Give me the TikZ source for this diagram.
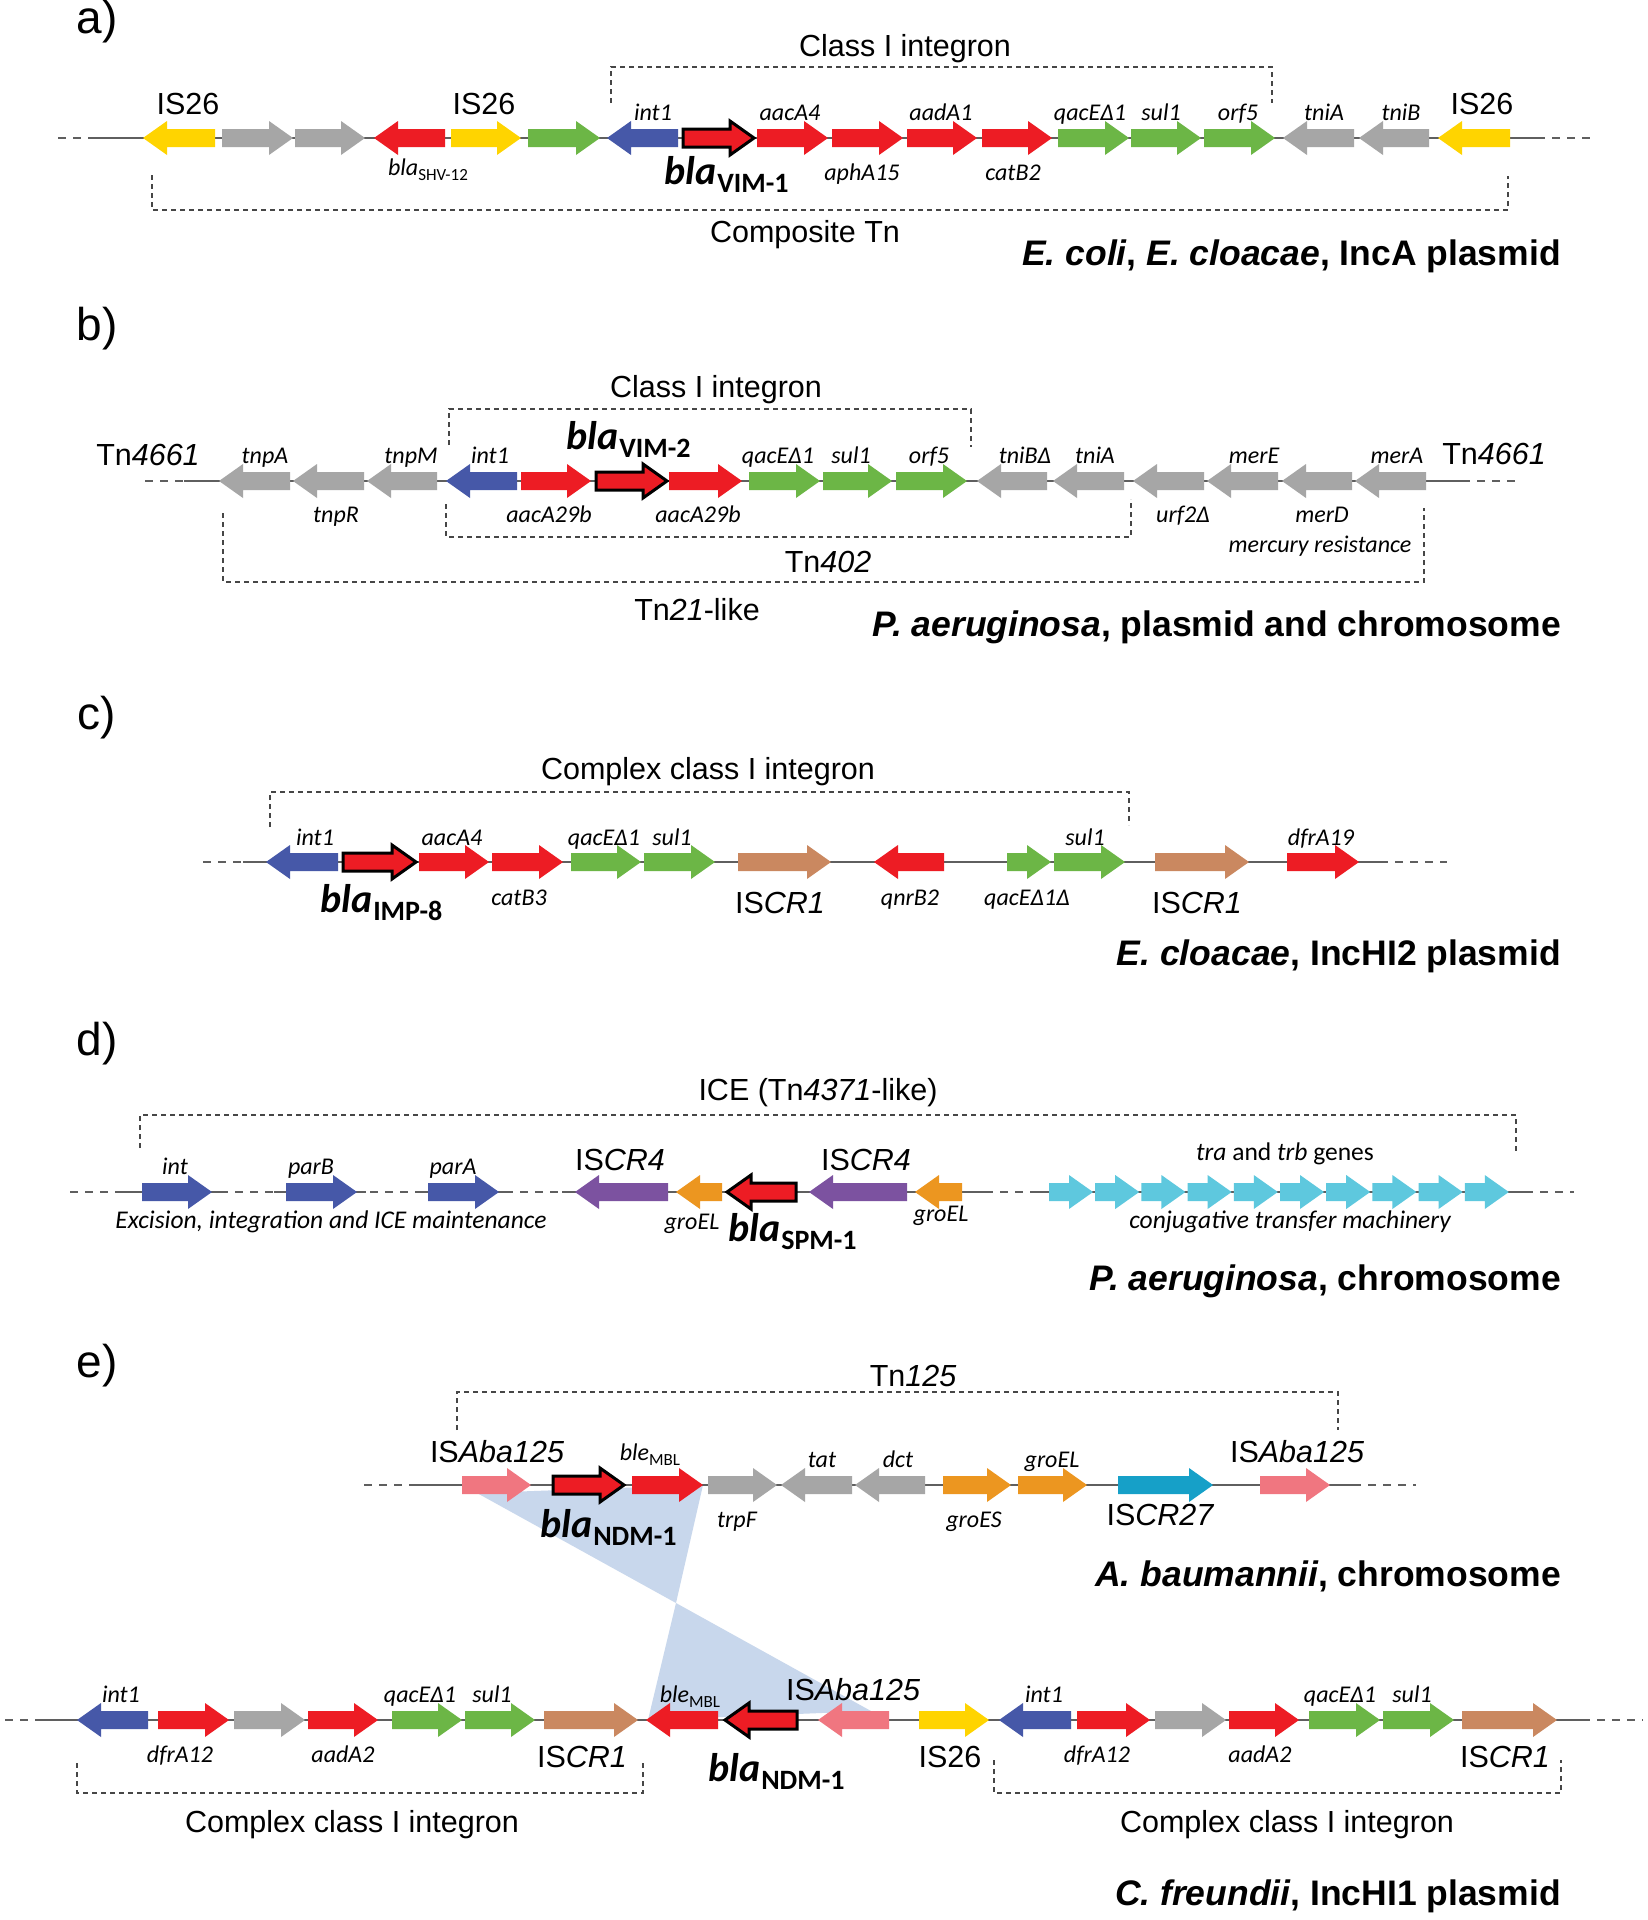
\documentclass[tikz,border=0pt]{standalone}
\usepackage{fontspec}
\setmainfont{Liberation Sans}
\newfontfamily\calfont{Carlito}
\definecolor{cyel}{RGB}{255,212,0}
\definecolor{cgry}{RGB}{166,166,166}
\definecolor{cred}{RGB}{237,28,36}
\definecolor{cgrn}{RGB}{108,182,70}
\definecolor{cblu}{RGB}{70,88,168}
\definecolor{cbrn}{RGB}{202,136,96}
\definecolor{cpur}{RGB}{124,82,160}
\definecolor{corg}{RGB}{236,150,32}
\definecolor{ccyn}{RGB}{94,200,222}
\definecolor{cteal}{RGB}{22,160,200}
\definecolor{cpnk}{RGB}{240,118,128}
\definecolor{ctri}{RGB}{200,215,236}
\definecolor{caxis}{RGB}{95,95,95}
\definecolor{cbrk}{RGB}{70,70,70}
\newcommand\gR[4]{%
 \pgfmathsetmacro\hx{#2-min(24,0.55*(#2-#1))}%
 \fill[#4] (#1,{#3-9}) -- (\hx,{#3-9}) -- (\hx,{#3-17}) -- (#2,#3) -- (\hx,{#3+17}) -- (\hx,{#3+9}) -- (#1,{#3+9}) -- cycle;}
\newcommand\gL[4]{%
 \pgfmathsetmacro\hx{#1+min(24,0.55*(#2-#1))}%
 \fill[#4] (#2,{#3-9}) -- (\hx,{#3-9}) -- (\hx,{#3-17}) -- (#1,#3) -- (\hx,{#3+17}) -- (\hx,{#3+9}) -- (#2,{#3+9}) -- cycle;}
\newcommand\blaf{\calfont\bfseries\itshape\fontsize{40}{42}\selectfont}
\newcommand\blasub{\calfont\bfseries\upshape\fontsize{28}{30}\selectfont}
\newcommand\blalab[4]{\node[anchor=base west, inner sep=0pt] (#4) at (#1,#2) {\blaf bla\kern1pt\raisebox{-8pt}{\blasub #3}};}
\newcommand\smsub[1]{\raisebox{-5pt}{\calfont\upshape\fontsize{17}{18}\selectfont #1}}
\begin{document}
\begin{tikzpicture}[x=1pt,y=-1pt,
 big/.style={font=\fontsize{30.5}{32}\selectfont, anchor=base, inner sep=0pt},
 gene/.style={font=\calfont\itshape\fontsize{24}{26}\selectfont, anchor=base, inner sep=0pt},
 note/.style={font=\calfont\itshape\fontsize{25.5}{27}\selectfont, anchor=base, inner sep=0pt},
 org/.style={font=\bfseries\fontsize{35.5}{37}\selectfont, anchor=base east, inner sep=0pt},
 panel/.style={font=\fontsize{46}{48}\selectfont, inner sep=0pt},
 brk/.style={draw=cbrk, line width=1.3pt, dash pattern=on 5pt off 4pt},
 axis/.style={draw=caxis, line width=2pt},
 axisd/.style={draw=caxis, line width=2pt, dash pattern=on 8pt off 7pt},
 blabox/.style={fill=cred, draw=black, line width=3pt, line join=miter},
 tri/.style={fill=ctri}]
\useasboundingbox (0,0) rectangle (1647,1920);
\fill[white] (0,0) rectangle (1647,1920);

% ================= a) =================
\node[panel] (pa) at (97,22) {a)};
\draw[axisd] (58,138) -- (88,138);
\draw[axis] (88,138) -- (1537,138);
\draw[axisd] (1537,138) -- (1595,138);
\gL{143}{215}{138}{cyel}
\gR{222}{293}{138}{cgry}
\gR{295}{365}{138}{cgry}
\gL{374}{445}{138}{cred}
\gR{451}{521}{138}{cyel}
\gR{528}{600}{138}{cgrn}
\gL{607}{678}{138}{cblu}
\gR{683}{754}{138}{blabox}
\gR{757}{828}{138}{cred}
\gR{832}{903}{138}{cred}
\gR{907}{977}{138}{cred}
\gR{982}{1052}{138}{cred}
\gR{1058}{1129}{138}{cgrn}
\gR{1131}{1201}{138}{cgrn}
\gR{1204}{1275}{138}{cgrn}
\gL{1283}{1354}{138}{cgry}
\gL{1359}{1429}{138}{cgry}
\gL{1438}{1510}{138}{cyel}
\draw[brk] (611,103) -- (611,67) -- (1272,67) -- (1272,103);
\draw[brk] (152,175) -- (152,210) -- (1508,210) -- (1508,176);
\node[big] (a1) at (905,56) {Class I integron};
\node[big] (a2) at (805,242) {Composite Tn};
\node[big] (a3) at (188,114) {IS26};
\node[big] (a4) at (484,114) {IS26};
\node[big] (a5) at (1482,114) {IS26};
\node[gene] (a6) at (653,120) {int1};
\node[gene] (a7) at (790,120) {aacA4};
\node[gene] (a8) at (941,120) {aadA1};
\node[gene] (a9) at (1090,120) {qacEΔ1};
\node[gene] (a10) at (1161,120) {sul1};
\node[gene] (a11) at (1238,120) {orf5};
\node[gene] (a12) at (1324,120) {tniA};
\node[gene] (a13) at (1401,120) {tniB};
\node[gene] (a14) at (862,180) {aphA15};
\node[gene] (a15) at (1013,180) {catB2};
\node[gene] (a16) at (428,175) {bla\smsub{SHV-12}};
\blalab{664}{184}{VIM-1}{a17}
\node[org] (a18) at (1561,265) {{\itshape E. coli}, {\itshape E. cloacae}, IncA plasmid};

% ================= b) =================
\node[panel] (pb) at (97,329) {b)};
\draw[axisd] (145,481) -- (184,481);
\draw[axis] (184,481) -- (1462,481);
\draw[axisd] (1462,481) -- (1521,481);
\gL{219}{290}{481}{cgry}
\gL{293}{364}{481}{cgry}
\gL{367}{437}{481}{cgry}
\gL{446}{517}{481}{cblu}
\gR{521}{591}{481}{cred}
\gR{596}{667}{481}{blabox}
\gR{669}{742}{481}{cred}
\gR{749}{820}{481}{cgrn}
\gR{823}{892}{481}{cgrn}
\gR{896}{967}{481}{cgrn}
\gL{977}{1047}{481}{cgry}
\gL{1053}{1124}{481}{cgry}
\gL{1133}{1204}{481}{cgry}
\gL{1207}{1278}{481}{cgry}
\gL{1282}{1352}{481}{cgry}
\gL{1355}{1426}{481}{cgry}
\draw[brk] (449,445) -- (449,409) -- (971,409) -- (971,447);
\draw[brk] (446,504) -- (446,537) -- (1131,537) -- (1131,499);
\draw[brk] (223,513) -- (223,582) -- (1424,582) -- (1424,508);
\node[big] (b1) at (716,397) {Class I integron};
\node[big] (b2) at (828,572) {Tn{\itshape 402}};
\node[big] (b3) at (697,620) {Tn{\itshape 21}-like};
\node[big] (b4) at (148,465) {Tn{\itshape 4661}};
\node[big] (b5) at (1494,464) {Tn{\itshape 4661}};
\node[gene] (b6) at (265,463) {tnpA};
\node[gene] (b7) at (411,463) {tnpM};
\node[gene] (b8) at (490,463) {int1};
\node[gene] (b9) at (778,463) {qacEΔ1};
\node[gene] (b10) at (851,463) {sul1};
\node[gene] (b11) at (929,463) {orf5};
\node[gene] (b12) at (1025,463) {tniBΔ};
\node[gene] (b13) at (1095,463) {tniA};
\node[gene] (b14) at (1254,463) {merE};
\node[gene] (b15) at (1397,463) {merA};
\node[gene] (b16) at (336,522) {tnpR};
\node[gene] (b17) at (549,522) {aacA29b};
\node[gene] (b18) at (698,522) {aacA29b};
\node[gene] (b19) at (1183,522) {urf2Δ};
\node[gene] (b20) at (1322,522) {merD};
\node[gene] (b21) at (1320,552) {mercury resistance};
\blalab{566}{449}{VIM-2}{b22}
\node[org] (b23) at (1561,636) {{\itshape P. aeruginosa}, plasmid and chromosome};

% ================= c) =================
\node[panel] (pc) at (97,718) {c)};
\draw[axisd] (203,862) -- (243,862);
\draw[axis] (243,862) -- (1380,862);
\draw[axisd] (1380,862) -- (1447,862);
\gL{266}{338}{862}{cblu}
\gR{343}{416}{862}{blabox}
\gR{419}{489}{862}{cred}
\gR{492}{563}{862}{cred}
\gR{571}{641}{862}{cgrn}
\gR{644}{715}{862}{cgrn}
\gR{738}{831}{862}{cbrn}
\gL{874}{944}{862}{cred}
\gR{1007}{1051}{862}{cgrn}
\gR{1054}{1125}{862}{cgrn}
\gR{1155}{1249}{862}{cbrn}
\gR{1287}{1359}{862}{cred}
\draw[brk] (270,827) -- (270,792) -- (1129,792) -- (1129,825);
\node[big] (c1) at (708,779) {Complex class I integron};
\node[gene] (c2) at (315,845) {int1};
\node[gene] (c3) at (452,845) {aacA4};
\node[gene] (c4) at (604,845) {qacEΔ1};
\node[gene] (c5) at (672,845) {sul1};
\node[gene] (c6) at (1085,845) {sul1};
\node[gene] (c7) at (1321,845) {dfrA19};
\node[gene] (c8) at (519,905) {catB3};
\node[gene] (c9) at (910,905) {qnrB2};
\node[gene] (c10) at (1027,905) {qacEΔ1Δ};
\node[big] (c11) at (780,913) {IS{\itshape CR1}};
\node[big] (c12) at (1197,913) {IS{\itshape CR1}};
\blalab{320}{912}{IMP-8}{c13}
\node[org] (c14) at (1561,965) {{\itshape E. cloacae}, IncHI2 plasmid};

% ================= d) =================
\node[panel] (pd) at (97,1044) {d)};
\draw[axisd] (70,1192) -- (1574,1192);
\draw[axis] (115,1192) -- (224,1192);
\draw[axis] (274,1192) -- (366,1192);
\draw[axis] (418,1192) -- (508,1192);
\draw[axis] (562,1192) -- (989,1192);
\draw[axis] (1034,1192) -- (1526,1192);
\gR{142}{212}{1192}{cblu}
\gR{286}{357}{1192}{cblu}
\gR{428}{499}{1192}{cblu}
\gL{575}{668}{1192}{cpur}
\gL{676}{722}{1192}{corg}
\gL{727}{796}{1192}{blabox}
\gL{809}{907}{1192}{cpur}
\gL{915}{962}{1192}{corg}
\foreach \i in {0,...,9} {
 \pgfmathsetmacro\sx{1049+46.2*\i}
 \pgfmathsetmacro\ex{\sx+44}
 \gR{\sx}{\ex}{1192}{ccyn}
}
\draw[brk] (140,1148) -- (140,1115) -- (1516,1115) -- (1516,1152);
\node[big] (d1) at (818,1100) {ICE (Tn{\itshape 4371}-like)};
\node[gene] (d2) at (175,1174) {int};
\node[gene] (d3) at (311,1174) {parB};
\node[gene] (d4) at (453,1174) {parA};
\node[big] (d5) at (620,1170) {IS{\itshape CR4}};
\node[big] (d6) at (866,1170) {IS{\itshape CR4}};
\node[note] (d7) at (1285,1160) {tra {\upshape and} trb {\upshape genes}};
\node[gene] (d8) at (692,1229) {groEL};
\node[gene] (d9) at (941,1221) {groEL};
\blalab{728}{1241}{SPM-1}{d10}
\node[note] (d11) at (331,1228) {Excision, integration and ICE maintenance};
\node[note] (d12) at (1290,1228) {conjugative transfer machinery};
\node[org] (d13) at (1561,1290) {{\itshape P. aeruginosa}, chromosome};

% ================= e) =================
\node[panel] (pe) at (97,1366) {e)};
\fill[tri] (477,1493) -- (703,1485) -- (676,1603) -- cycle;
\fill[tri] (676,1603) -- (648,1720) -- (871,1711) -- cycle;
\draw[axisd] (364,1485) -- (410,1485);
\draw[axis] (410,1485) -- (1353,1485);
\draw[axisd] (1353,1485) -- (1416,1485);
\gR{462}{531}{1485}{cpnk}
\gR{553}{624}{1485}{blabox}
\gR{632}{703}{1485}{cred}
\gR{708}{777}{1485}{cgry}
\gL{781}{852}{1485}{cgry}
\gL{855}{925}{1485}{cgry}
\gR{943}{1011}{1485}{corg}
\gR{1018}{1087}{1485}{corg}
\gR{1118}{1213}{1485}{cteal}
\gR{1260}{1330}{1485}{cpnk}
\draw[brk] (457,1430) -- (457,1392) -- (1338,1392) -- (1338,1430);
\node[big] (e1) at (913,1386) {Tn{\itshape 125}};
\node[big] (e2) at (497,1462) {IS{\itshape Aba125}};
\node[big] (e3) at (1297,1462) {IS{\itshape Aba125}};
\node[gene] (e4) at (650,1460) {ble\smsub{MBL}};
\node[gene] (e5) at (822,1467) {tat};
\node[gene] (e6) at (898,1467) {dct};
\node[gene] (e7) at (1052,1467) {groEL};
\node[gene] (e8) at (737,1527) {trpF};
\node[gene] (e9) at (974,1527) {groES};
\node[big] (e10) at (1160,1525) {IS{\itshape CR27}};
\blalab{540}{1537}{NDM-1}{e11}
\node[org] (e12) at (1561,1586) {{\itshape A. baumannii}, chromosome};

\draw[axisd] (5,1720) -- (37,1720);
\draw[axis] (37,1720) -- (1582,1720);
\draw[axisd] (1582,1720) -- (1643,1720);
\gL{77}{148}{1720}{cblu}
\gR{158}{229}{1720}{cred}
\gR{234}{305}{1720}{cgry}
\gR{308}{378}{1720}{cred}
\gR{392}{462}{1720}{cgrn}
\gR{465}{535}{1720}{cgrn}
\gR{544}{638}{1720}{cbrn}
\gL{646}{718}{1720}{cred}
\gL{725}{797}{1720}{blabox}
\gL{818}{889}{1720}{cpnk}
\gR{919}{989}{1720}{cyel}
\gL{999}{1071}{1720}{cblu}
\gR{1077}{1150}{1720}{cred}
\gR{1155}{1226}{1720}{cgry}
\gR{1229}{1299}{1720}{cred}
\gR{1309}{1380}{1720}{cgrn}
\gR{1383}{1454}{1720}{cgrn}
\gR{1462}{1557}{1720}{cbrn}
\draw[brk] (77,1763) -- (77,1793) -- (643,1793) -- (643,1763);
\draw[brk] (994,1760) -- (994,1793) -- (1561,1793) -- (1561,1760);
\node[gene] (f1) at (121,1702) {int1};
\node[gene] (f2) at (420,1702) {qacEΔ1};
\node[gene] (f3) at (492,1702) {sul1};
\node[gene] (f4) at (1044,1702) {int1};
\node[gene] (f5) at (1340,1702) {qacEΔ1};
\node[gene] (f6) at (1412,1702) {sul1};
\node[gene] (f7) at (690,1702) {ble\smsub{MBL}};
\node[big] (f8) at (853,1700) {IS{\itshape Aba125}};
\node[gene] (f9) at (180,1762) {dfrA12};
\node[gene] (f10) at (343,1762) {aadA2};
\node[gene] (f11) at (1097,1762) {dfrA12};
\node[gene] (f12) at (1260,1762) {aadA2};
\node[big] (f13) at (582,1767) {IS{\itshape CR1}};
\node[big] (f14) at (950,1767) {IS26};
\node[big] (f15) at (1505,1767) {IS{\itshape CR1}};
\blalab{708}{1781}{NDM-1}{f16}
\node[big] (f17) at (352,1832) {Complex class I integron};
\node[big] (f18) at (1287,1832) {Complex class I integron};
\node[org] (f19) at (1561,1905) {{\itshape C. freundii}, IncHI1 plasmid};
\end{tikzpicture}
\end{document}
